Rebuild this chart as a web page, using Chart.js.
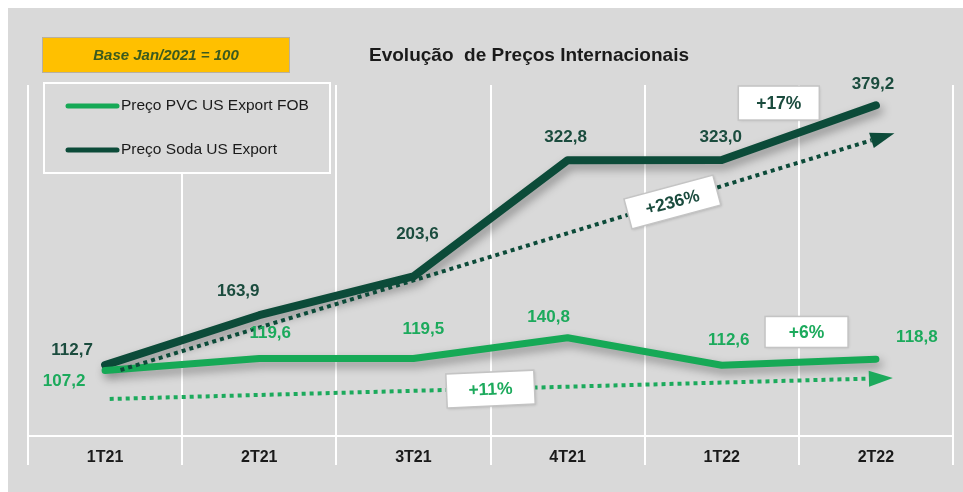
<!DOCTYPE html>
<html>
<head>
<meta charset="utf-8">
<script src="https://cdn.jsdelivr.net/npm/chart.js@4.4.0/dist/chart.umd.min.js"></script>
<style>
  html, body { margin: 0; padding: 0; background: #fff; overflow: hidden; }
  #wrap { width: 963px; height: 492px; }
</style>
</head>
<body>
<div id="wrap"><canvas id="myChart"></canvas></div>
<script>
// dados (base jan/2021 = 100)
const quarters = ['1T21', '2T21', '3T21', '4T21', '1T22', '2T22'];
const pvcValues = [107.2, 119.6, 119.5, 140.8, 112.6, 118.8];
const sodaValues = [112.7, 163.9, 203.6, 322.8, 323.0, 379.2];
const seriesNames = ['Preço PVC US Export FOB', 'Preço Soda US Export'];
const changeLabels = ['+236%', '+17%', '+11%', '+6%'];
const baseNote = 'Base Jan/2021 = 100';
const chartTitle = 'Evolução  de Preços Internacionais';

const GREEN = '#16a956';
const DARK = '#0c4b39';
const LBL_GREEN = '#1caa5c';
const LBL_DARK = '#1b4c3e';
const FONT = '"Liberation Sans", Arial, sans-serif';

const fmt = v => v.toFixed(1).replace('.', ',');

// desenha fundo, titulo, nota e legenda
const frame = {
  id: 'frame',
  beforeDraw(chart) {
    const ctx = chart.ctx;
    ctx.save();
    ctx.fillStyle = '#fff';
    ctx.fillRect(0, 0, chart.width, chart.height);
    ctx.fillStyle = '#d9d9d9';
    ctx.fillRect(8, 8, chart.width - 8, chart.height - 8);
    ctx.restore();
  },
  beforeDatasetsDraw(chart) {
    const ctx = chart.ctx;
    ctx.save();
    // nota base
    ctx.fillStyle = '#ffc000';
    ctx.fillRect(42, 37, 248, 36);
    ctx.strokeStyle = '#b8b0a0';
    ctx.lineWidth = 1;
    ctx.strokeRect(42.5, 37.5, 247, 35);
    ctx.fillStyle = '#3b5a1e';
    ctx.font = 'italic bold 15px ' + FONT;
    ctx.textAlign = 'center';
    ctx.textBaseline = 'middle';
    ctx.fillText(baseNote, 166, 56);
    // titulo
    ctx.fillStyle = '#1a1a1a';
    ctx.font = 'bold 19px ' + FONT;
    ctx.fillText(chartTitle, 529, 56);
    // legenda
    ctx.fillStyle = '#d9d9d9';
    ctx.fillRect(44, 83, 286, 90);
    ctx.strokeStyle = '#fff';
    ctx.lineWidth = 2;
    ctx.strokeRect(44, 83, 286, 90);
    chart.data.datasets.forEach((ds, i) => {
      const y = 106 + i * 44;
      ctx.strokeStyle = ds.borderColor;
      ctx.lineWidth = 5;
      ctx.lineCap = 'round';
      ctx.beginPath();
      ctx.moveTo(68, y);
      ctx.lineTo(117, y);
      ctx.stroke();
      ctx.fillStyle = '#1a1a1a';
      ctx.font = '15.5px ' + FONT;
      ctx.textAlign = 'left';
      ctx.fillText(ds.label, 121, y);
    });
    ctx.restore();
  }
};

// sombra nas linhas
const shadow = {
  id: 'shadow',
  beforeDatasetDraw(chart) {
    const ctx = chart.ctx;
    ctx.save();
    ctx.shadowColor = 'rgba(0,0,0,0.35)';
    ctx.shadowBlur = 10;
    ctx.shadowOffsetX = 3;
    ctx.shadowOffsetY = 5;
  },
  afterDatasetDraw(chart) {
    chart.ctx.restore();
  }
};

// setas de tendencia, caixas de variacao e rotulos
const notes = {
  id: 'notes',
  afterDatasetsDraw(chart, args, opts) {
    const ctx = chart.ctx;
    const xs = chart.scales.x, ys = chart.scales.y;
    const px = (i, v) => [xs.getPixelForValue(i), ys.getPixelForValue(v)];

    opts.trends.forEach(t => {
      const [x1, y1] = px(t.from[0], t.from[1]);
      const [x2, y2] = px(t.to[0], t.to[1]);
      const ang = Math.atan2(y2 - y1, x2 - x1);
      const head = 24;
      const bx = x2 - head * Math.cos(ang), by = y2 - head * Math.sin(ang);
      ctx.save();
      ctx.strokeStyle = t.color;
      ctx.fillStyle = t.color;
      ctx.lineWidth = 4;
      ctx.setLineDash([4, 4]);
      ctx.beginPath();
      ctx.moveTo(x1, y1);
      ctx.lineTo(bx, by);
      ctx.stroke();
      ctx.setLineDash([]);
      ctx.beginPath();
      ctx.moveTo(x2, y2);
      ctx.lineTo(bx + 8 * Math.sin(ang), by - 8 * Math.cos(ang));
      ctx.lineTo(bx - 8 * Math.sin(ang), by + 8 * Math.cos(ang));
      ctx.closePath();
      ctx.fill();
      ctx.restore();
    });

    opts.boxes.forEach(b => {
      const [cx, cy] = px(b.at[0], b.at[1]);
      ctx.save();
      ctx.translate(cx, cy);
      ctx.rotate(b.rot * Math.PI / 180);
      ctx.shadowColor = 'rgba(0,0,0,0.18)';
      ctx.shadowBlur = 3;
      ctx.shadowOffsetX = 1;
      ctx.shadowOffsetY = 1;
      ctx.fillStyle = '#fff';
      ctx.fillRect(-b.w / 2, -b.h / 2, b.w, b.h);
      ctx.shadowColor = 'transparent';
      ctx.strokeStyle = '#c4c4c4';
      ctx.lineWidth = 1.5;
      ctx.strokeRect(-b.w / 2, -b.h / 2, b.w, b.h);
      ctx.fillStyle = b.color;
      ctx.font = 'bold 17.5px ' + FONT;
      ctx.textAlign = 'center';
      ctx.textBaseline = 'middle';
      ctx.fillText(b.text, 0, 1);
      ctx.restore();
    });

    chart.data.datasets.forEach((ds, di) => {
      const meta = chart.getDatasetMeta(di);
      const offs = opts.offsets[di];
      ctx.save();
      ctx.fillStyle = opts.labelColors[di];
      ctx.font = 'bold 17px ' + FONT;
      ctx.textAlign = 'center';
      ctx.textBaseline = 'middle';
      meta.data.forEach((pt, i) => {
        ctx.fillText(fmt(ds.data[i]), pt.x + offs[i][0], pt.y + offs[i][1]);
      });
      ctx.restore();
    });
  }
};

const ctx = document.getElementById('myChart').getContext('2d');
new Chart(ctx, {
  type: 'line',
  data: {
    labels: quarters,
    datasets: [
      {
        label: seriesNames[0],
        data: pvcValues,
        borderColor: GREEN,
        borderWidth: 7,
        borderCapStyle: 'round',
        borderJoinStyle: 'round',
        pointRadius: 0,
        tension: 0
      },
      {
        label: seriesNames[1],
        data: sodaValues,
        borderColor: DARK,
        borderWidth: 8,
        borderCapStyle: 'round',
        borderJoinStyle: 'round',
        pointRadius: 0,
        tension: 0
      }
    ]
  },
  options: {
    responsive: true,
    maintainAspectRatio: false,
    animation: false,
    layout: { padding: { left: 28, right: 10, top: 85, bottom: 0 } },
    plugins: {
      legend: { display: false },
      tooltip: { enabled: false },
      notes: {
        offsets: [
          [[-41, 11], [11, -25], [10, -29], [-19, -20], [7, -25], [41, -22]],
          [[-33, -15], [-21, -24], [4, -42], [-2, -23], [-1, -23], [-3, -21]]
        ],
        labelColors: [LBL_GREEN, LBL_DARK],
        trends: [
          { from: [0.1, 107.7], to: [5.12, 350.5], color: DARK },
          { from: [0.03, 78], to: [5.11, 99.5], color: LBL_GREEN }
        ],
        boxes: [
          { text: changeLabels[0], at: [3.68, 280], w: 92, h: 31, rot: -15, color: LBL_DARK },
          { text: changeLabels[1], at: [4.37, 381.5], w: 81, h: 34, rot: 0, color: LBL_DARK },
          { text: changeLabels[2], at: [2.5, 88.2], w: 88, h: 34, rot: -2.5, color: LBL_GREEN },
          { text: changeLabels[3], at: [4.55, 146.7], w: 83, h: 31, rot: 0, color: LBL_GREEN }
        ]
      }
    },
    scales: {
      x: {
        offset: true,
        grid: { offset: true, color: '#fff', lineWidth: 2, tickLength: 29, drawTicks: true },
        border: { color: '#fff', width: 2 },
        ticks: { color: '#1a1a1a', font: { family: FONT, size: 16, weight: 'bold' }, padding: -17, maxRotation: 0 },
        afterFit(scale) { scale.height = 56; }
      },
      y: {
        display: false,
        min: 40,
        max: 400
      }
    }
  },
  plugins: [frame, shadow, notes]
});
</script>
</body>
</html>
